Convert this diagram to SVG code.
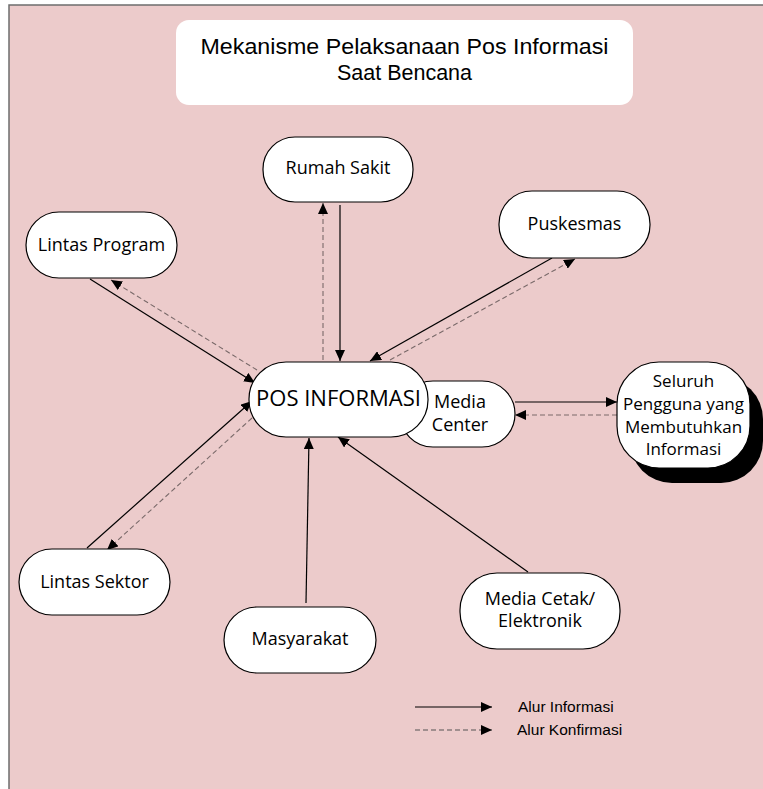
<svg xmlns="http://www.w3.org/2000/svg" width="763" height="789" viewBox="0 0 763 789">
<style>
.node{fill:#fff;stroke:#000;stroke-width:1.2}
.t{font-family:"Open Sans","Noto Sans",sans-serif;font-size:18px;fill:#000;text-anchor:middle}
.title{font-family:"Liberation Sans",Arial,sans-serif;font-size:21.5px;fill:#000;text-anchor:middle}
.leg{font-family:"Liberation Sans",Arial,sans-serif;font-size:15.5px;fill:#000}
.solid{stroke:#000;stroke-width:1.2;fill:none;marker-end:url(#ah)}
.dash{stroke:#7a6a6a;stroke-width:1.1;fill:none;stroke-dasharray:5,3;marker-end:url(#ah)}
</style>
<defs>
<marker id="ah" markerUnits="userSpaceOnUse" markerWidth="11" markerHeight="10" refX="11" refY="5" orient="auto">
<path d="M0,0 L11,5 L0,10 z" fill="#000"/>
</marker>
</defs>
<rect x="0" y="0" width="763" height="789" fill="#fff"/>
<rect x="9" y="5" width="770" height="800" fill="#ECCBCB" stroke="#6e6e6e" stroke-width="1.5"/>
<g id="title">
<rect x="176" y="20" width="457" height="85" rx="13" fill="#fff"/>
<text class="title" x="404.5" y="54" textLength="408" lengthAdjust="spacingAndGlyphs">Mekanisme Pelaksanaan Pos Informasi</text>
<text class="title" x="404.5" y="80">Saat Bencana</text>
</g>
<g id="connectors">
<line class="solid" x1="90" y1="279" x2="255" y2="383"/>
<line class="dash" x1="257" y1="370" x2="111" y2="280"/>
<line class="dash" x1="323" y1="360" x2="323" y2="203"/>
<line class="solid" x1="340" y1="205" x2="340" y2="361"/>
<line class="solid" x1="552" y1="258" x2="370" y2="361"/>
<line class="dash" x1="390" y1="360" x2="575" y2="259"/>
<line class="solid" x1="87" y1="548" x2="252" y2="401"/>
<line class="dash" x1="252" y1="418" x2="107" y2="550"/>
<line class="solid" x1="306" y1="603" x2="309" y2="438"/>
<line class="solid" x1="528" y1="572" x2="338" y2="437"/>
<line class="solid" x1="515" y1="402" x2="617" y2="402"/>
<line class="dash" x1="617" y1="415" x2="515" y2="415"/>
</g>
<g id="rumah-sakit">
<rect class="node" x="263" y="137" width="150" height="65" rx="32"/>
<text class="t" x="338" y="174">Rumah Sakit</text>
</g>
<g id="lintas-program">
<rect class="node" x="26" y="212" width="151" height="66" rx="33"/>
<text class="t" x="101.5" y="251">Lintas Program</text>
</g>
<g id="puskesmas">
<rect class="node" x="499" y="191" width="151" height="67" rx="33"/>
<text class="t" x="574.5" y="230">Puskesmas</text>
</g>
<g id="media-center">
<rect class="node" x="400" y="381" width="115" height="66" rx="33"/>
<text class="t" x="460" y="408">Media</text>
<text class="t" x="460" y="431">Center</text>
</g>
<g id="pos-informasi">
<rect class="node" x="249" y="362" width="179" height="75" rx="37"/>
<text class="t" x="338.5" y="406" style="font-size:22px">POS INFORMASI</text>
</g>
<g id="seluruh-pengguna">
<rect x="630" y="377" width="133" height="106" rx="42" fill="#000"/>
<rect class="node" x="617" y="362" width="133" height="106" rx="42"/>
<text class="t" x="683.5" y="387" style="font-size:17px">Seluruh</text>
<text class="t" x="683.5" y="410" style="font-size:17px">Pengguna yang</text>
<text class="t" x="683.5" y="433" style="font-size:17px">Membutuhkan</text>
<text class="t" x="683.5" y="455" style="font-size:17px">Informasi</text>
</g>
<g id="lintas-sektor">
<rect class="node" x="19" y="549" width="151" height="66" rx="33"/>
<text class="t" x="94.5" y="588">Lintas Sektor</text>
</g>
<g id="masyarakat">
<rect class="node" x="224" y="607" width="152" height="66" rx="33"/>
<text class="t" x="300" y="645">Masyarakat</text>
</g>
<g id="media-cetak">
<rect class="node" x="460" y="573" width="160" height="76" rx="37"/>
<text class="t" x="540" y="605">Media Cetak/</text>
<text class="t" x="540" y="627">Elektronik</text>
</g>
<g id="legend">
<line class="solid" x1="415" y1="707" x2="492" y2="707"/>
<line class="dash" x1="415" y1="730" x2="492" y2="730" style="stroke:#555"/>
<text class="leg" x="518" y="712">Alur Informasi</text>
<text class="leg" x="517" y="735">Alur Konfirmasi</text>
</g>
</svg>
